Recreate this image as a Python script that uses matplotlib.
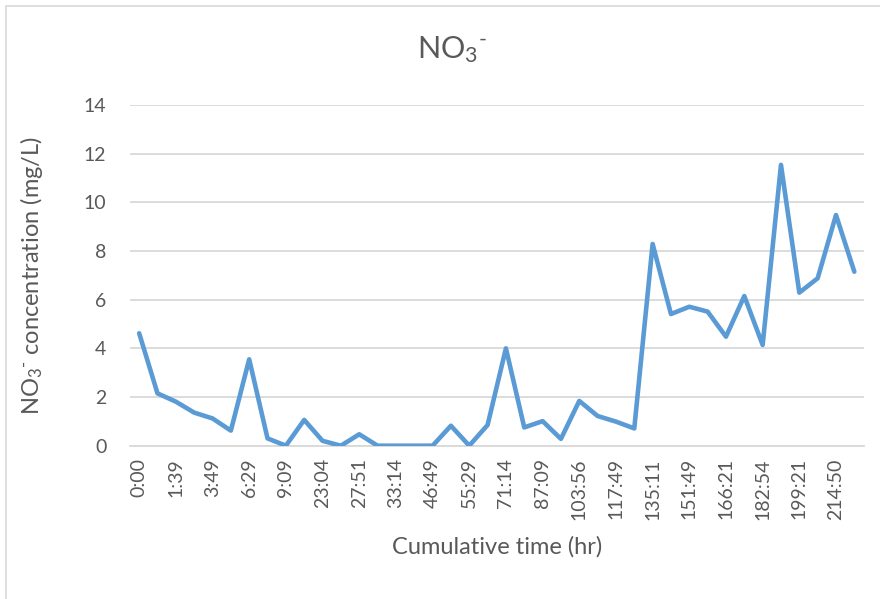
import matplotlib
matplotlib.use("Agg")
import matplotlib.pyplot as plt
from matplotlib.patches import Rectangle

plt.rcParams["font.family"] = ["Lato", "DejaVu Sans"]
plt.rcParams["mathtext.fontset"] = "custom"
plt.rcParams["mathtext.rm"] = "Lato"
plt.rcParams["mathtext.default"] = "regular"

# NO3- readings, one per sampling event
no3 = [4.62, 2.15, 1.81, 1.36, 1.12, 0.62, 3.55, 0.30, 0.0, 1.06,
       0.20, 0.0, 0.47, 0.0, 0.0, 0.0, 0.0, 0.82, 0.0, 0.85,
       4.0, 0.75, 1.01, 0.28, 1.84, 1.22, 0.99, 0.71, 8.29, 5.41,
       5.71, 5.51, 4.48, 6.15, 4.14, 11.54, 6.29, 6.88, 9.48, 7.15]
# cumulative time labels, shown on every second sample
time_labels = ["0:00", "1:39", "3:49", "6:29", "9:09", "23:04", "27:51", "33:14",
               "46:49", "55:29", "71:14", "87:09", "103:56", "117:49", "135:11",
               "151:49", "166:21", "182:54", "199:21", "214:50"]
y_ticks = [0, 2, 4, 6, 8, 10, 12, 14]

text_color = "#595959"
grid_color = "#d9d9d9"
ion = r"NO$_3$$^{\text{-}}$"

fig = plt.figure(figsize=(8.8, 5.99), dpi=100)
ax = fig.add_axes([130 / 880, 1 - 445.7 / 599, 733.5 / 880, 340.7 / 599])

ax.plot(range(len(no3)), no3, color="#5b9bd5", lw=3.3,
        solid_joinstyle="round", solid_capstyle="round", zorder=3)

ax.set_xlim(-0.5, len(no3) - 0.5)
ax.set_ylim(0, 14)
ax.set_yticks(y_ticks)
ax.set_xticks(range(0, len(no3), 2))
ax.set_xticklabels(time_labels, rotation=90)
ax.yaxis.grid(True, color=grid_color, lw=1.3)
ax.set_axisbelow(True)
for side in ("top", "right", "left"):
    ax.spines[side].set_visible(False)
ax.spines["bottom"].set_color(grid_color)
ax.spines["bottom"].set_linewidth(1.3)
ax.tick_params(axis="both", length=0, labelsize=14, colors=text_color)
ax.tick_params(axis="y", pad=17)
ax.tick_params(axis="x", pad=9)

fig.text(452 / 880, 1 - 50 / 599, ion, fontsize=22, color=text_color,
         ha="center", va="center")
ax.set_xlabel("Cumulative time (hr)", fontsize=17, color=text_color, labelpad=12)
ax.set_ylabel(ion + " concentration (mg/L)", fontsize=17, color=text_color)
ax.yaxis.set_label_coords(-(130 - 45) / 733.5, 0.5)

fig.patches.append(Rectangle((6 / 880, -0.01), 1, 1 - 6 / 599 + 0.01,
                             transform=fig.transFigure, fill=False,
                             edgecolor="#d9d9d9", lw=1.2))

fig.savefig("out.png", dpi=100)
